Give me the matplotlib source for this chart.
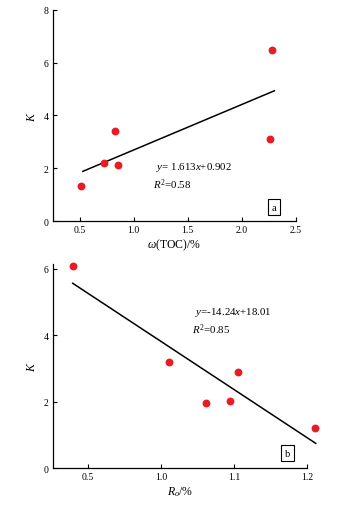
import matplotlib
matplotlib.use("Agg")
import matplotlib.pyplot as plt

plt.rcParams['font.family'] = ['Liberation Serif', 'DejaVu Serif']
plt.rcParams['mathtext.fontset'] = 'custom'
plt.rcParams['mathtext.rm'] = 'Liberation Serif'
plt.rcParams['mathtext.it'] = 'Liberation Serif:italic'
plt.rcParams['mathtext.bf'] = 'Liberation Serif:bold'

# Panel a data
toc = [0.51, 0.725, 0.827, 0.852, 2.256, 2.281]
k_a = [1.32, 2.18, 3.42, 2.12, 3.09, 6.47]
line_a_x = [0.53, 2.30]
line_a_y = [1.88, 4.93]
xticks_a = [0.5, 1.0, 1.5, 2.0, 2.5]
xticklabels_a = ["0.5", "1.0", "1.5", "2.0", "2.5"]
yticks_a = [0, 2, 4, 6, 8]
eq_a = r"$y$= 1.613$x$+0.902"
r2_a = r"$R^2$=0.58"

# Panel b data
ro = [0.879, 1.011, 1.062, 1.095, 1.105, 1.211]
k_b = [6.08, 3.19, 1.97, 2.02, 2.90, 1.22]
line_b_x = [0.879, 1.212]
line_b_y = [5.57, 0.75]
xticks_b = [0.9, 1.0, 1.1, 1.2]
xticklabels_b = ["0.5", "1.0", "1.1", "1.2"]
yticks_b = [0, 2, 4, 6]
eq_b = r"$y$=-14.24$x$+18.01"
r2_b = r"$R^2$=0.85"

red = '#e81c24'
fig = plt.figure(figsize=(3.46, 5.06), dpi=100)

def style(ax):
    for s in ['top', 'right']:
        ax.spines[s].set_visible(False)
    for s in ['left', 'bottom']:
        ax.spines[s].set_linewidth(0.9)
    ax.tick_params(direction='in', length=3, width=0.8, labelsize=7, pad=3)

ax1 = fig.add_axes([53/346, 1-222/506, 243/346, 211.3/506])
ax1.scatter(toc, k_a, s=32, color=red, zorder=3, linewidths=0)
ax1.plot(line_a_x, line_a_y, color='black', lw=1.1)
ax1.set_xlim(0.254, 2.5)
ax1.set_ylim(0, 8)
ax1.set_xticks(xticks_a)
ax1.set_xticklabels(xticklabels_a)
ax1.set_yticks(yticks_a)
style(ax1)
ax1.set_xlabel(r"$\omega$(TOC)/%", fontsize=8.5, labelpad=2)
ax1.set_ylabel(r"$K$", fontsize=8.5, labelpad=4)
ax1.text(1.21, 2.08, eq_a, fontsize=7.8, va='center', ha='left')
ax1.text(1.18, 1.42, r2_a, fontsize=7.8, va='center', ha='left')
ax1.text(2.30, 0.52, "a", fontsize=7.5, ha='center', va='center',
         bbox=dict(boxstyle='square,pad=0.35', fc='white', ec='black', lw=0.8))

ax2 = fig.add_axes([53/346, 1-469.3/506, 254/346, 204.3/506])
ax2.scatter(ro, k_b, s=32, color=red, zorder=3, linewidths=0)
ax2.plot(line_b_x, line_b_y, color='black', lw=1.1)
ax2.set_xlim(0.852, 1.2)
ax2.set_ylim(0, 6.15)
ax2.set_xticks(xticks_b)
ax2.set_xticklabels(xticklabels_b)
ax2.set_yticks(yticks_b)
style(ax2)
ax2.set_xlabel(r"$R_o$/%", fontsize=8.5, labelpad=2)
ax2.set_ylabel(r"$K$", fontsize=8.5, labelpad=4)
ax2.text(1.046, 4.72, eq_b, fontsize=7.8, va='center', ha='left')
ax2.text(1.043, 4.21, r2_b, fontsize=7.8, va='center', ha='left')
ax2.text(1.173, 0.45, "b", fontsize=7.5, ha='center', va='center',
         bbox=dict(boxstyle='square,pad=0.35', fc='white', ec='black', lw=0.8))
for a in (ax1, ax2):
    for c in a.collections:
        c.set_clip_on(False)
    for l in a.lines:
        l.set_clip_on(False)

fig.savefig("out.png", dpi=100, facecolor='white')
